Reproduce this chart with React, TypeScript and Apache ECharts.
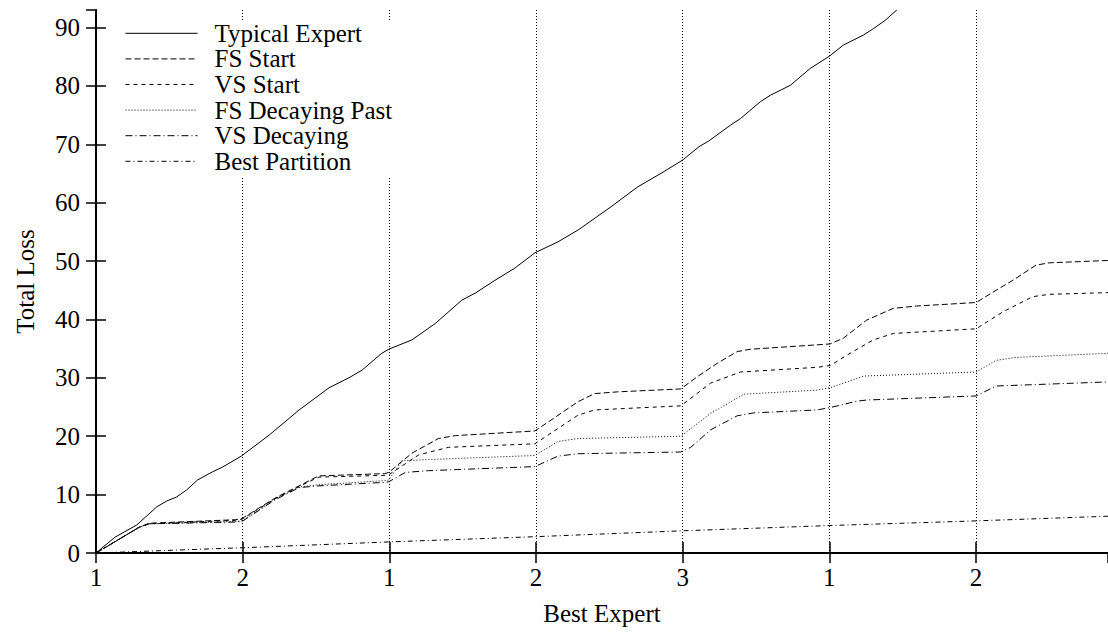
import React, { useEffect, useRef } from "react";
import * as echarts from "echarts";

// Best expert label shown at each segment boundary (every 100 trials)
const xTickLabels = ["1", "2", "1", "2", "3", "1", "2"];
const seriesNames = [
  "Typical Expert",
  "FS Start",
  "VS Start",
  "FS Decaying Past",
  "VS Decaying",
  "Best Partition",
];

// [trial, total loss]
const typicalExpert = [
  [0, 0], [12.9, 2.7], [27.8, 4.8], [41.4, 7.9], [48.2, 8.9], [55, 9.6], [61.8, 10.8],
  [69.2, 12.5], [79.4, 13.9], [86.2, 14.7], [99.1, 16.6], [118.1, 20.2], [138.5, 24.5],
  [158.9, 28.3], [172.4, 30.0], [181.3, 31.3], [194.8, 34.2], [199.6, 34.9], [215.4, 36.5],
  [231.3, 39.3], [249.4, 43.3], [258.5, 44.5], [272, 46.7], [285.6, 48.8], [299.2, 51.4],
  [315, 53.3], [328.6, 55.3], [351.2, 59.3], [369.3, 62.7], [385.1, 65.0], [400, 67.3],
  [411.2, 69.6], [418, 70.6], [432.7, 73.3], [439.4, 74.4], [453, 77.3], [459.8, 78.4],
  [473.4, 80.1], [487, 83.0], [500.1, 85.1], [509.6, 87.0], [523.2, 88.7], [530, 89.8],
  [537.9, 91.2], [546, 93.0],
];

const fsStart = [
  [0, 0], [29.4, 4.4], [36.2, 5.1], [95, 5.7], [99.6, 5.9], [122, 9.4], [138.5, 11.5],
  [149.4, 12.9], [152, 13.2], [196.9, 13.6], [199.6, 13.8], [215.4, 17.1], [233.5, 19.6],
  [244.9, 20.1], [299.2, 20.9], [312.8, 23.2], [328.6, 25.9], [339.9, 27.3], [355.7, 27.6],
  [398.7, 28.1], [410, 30.2], [423.6, 32.5], [437.2, 34.5], [446.2, 34.9], [500.5, 35.8],
  [509.6, 36.8], [525.5, 39.9], [543.6, 41.9], [559.4, 42.3], [600.1, 42.9], [613.7, 45.0],
  [625.1, 46.7], [640.9, 49.3], [650, 49.7], [690, 50.1],
];

const vsStart = [
  [0, 0], [29.4, 4.4], [36.2, 5.0], [95, 5.6], [99.6, 5.8], [122, 9.3], [138.5, 11.4],
  [149.4, 12.7], [152, 13.0], [196.9, 13.3], [199.6, 13.4], [220, 16.8], [240.3, 18.1],
  [299.2, 18.7], [328.6, 23.6], [339.9, 24.5], [398.7, 25.2], [419.1, 29.1], [439.4, 31.0],
  [491.5, 31.8], [500.5, 32.1], [514.1, 34.2], [530, 36.5], [543.6, 37.6], [600.1, 38.4],
  [618.3, 41.3], [638.6, 43.9], [650, 44.3], [690, 44.6],
];

const fsDecayingPast = [
  [0, 0], [29.4, 4.4], [36.2, 5.0], [95, 5.4], [99.6, 5.5], [122, 9.2], [138.5, 11.3],
  [152, 11.7], [196.9, 12.4], [199.6, 12.5], [208.6, 15.8], [226.7, 16.0], [299.2, 16.7],
  [315, 19.1], [328.6, 19.6], [398.7, 20.0], [419.1, 23.9], [441.7, 27.2], [491.5, 27.9],
  [500.5, 28.3], [523.2, 30.3], [600.1, 31.0], [613.7, 33.0], [627.3, 33.5], [690, 34.2],
];

const vsDecaying = [
  [0, 0], [29.4, 4.4], [36.2, 5.0], [95, 5.3], [99.6, 5.4], [122, 9.1], [138.5, 11.2],
  [152, 11.5], [196.9, 12.1], [199.6, 12.2], [210.9, 13.8], [226.7, 14.1], [299.2, 14.8],
  [315, 16.6], [328.6, 17.0], [398.7, 17.3], [405.5, 18.1], [419.1, 21.1], [437.2, 23.5],
  [448.5, 24.0], [491.5, 24.5], [500.5, 24.9], [518.7, 26.0], [525.5, 26.2], [600.1, 26.9],
  [613.7, 28.6], [690, 29.3],
];

const bestPartition = [
  [0, 0], [100, 0.9], [200, 1.9], [300, 2.8], [400, 3.8], [500, 4.7], [600, 5.5], [690, 6.3],
];

const seriesData = [typicalExpert, fsStart, vsStart, fsDecayingPast, vsDecaying, bestPartition];
const dashTypes: any[] = ["solid", [6, 3], [4, 4], [1, 2], [7, 3, 1, 3], [5, 3, 1, 3]];

export default function App() {
  const ref = useRef<HTMLDivElement>(null);

  useEffect(() => {
    if (!ref.current) return;
    const chart = echarts.init(ref.current, null, { renderer: "svg" });
    const font = "Liberation Serif";
    const txt = { fontFamily: font, fontSize: 25, color: "#000" };

    chart.setOption({
      animation: false,
      backgroundColor: "#fff",
      grid: { left: 96, right: -5, top: 10, bottom: 80 },
      xAxis: [
        {
          type: "value",
          min: 0,
          max: 690,
          interval: 100,
          position: "bottom",
          name: "Best Expert",
          nameLocation: "middle",
          nameGap: 48,
          nameTextStyle: txt,
          axisLine: { lineStyle: { color: "#000", width: 2 } },
          axisTick: { inside: true, length: 11, lineStyle: { color: "#000", width: 1.5 } },
          axisLabel: {
            ...txt,
            margin: 12,
            showMaxLabel: false,
            formatter: (v: number) => {
              const i = Math.round(v / 100);
              return Math.abs(v - i * 100) < 1e-6 && i < xTickLabels.length ? xTickLabels[i] : "";
            },
          },
          splitLine: { show: true, lineStyle: { color: "#000", width: 1, type: [1, 2] } },
        },
        {
          type: "value",
          min: 0,
          max: 690,
          interval: 100,
          position: "top",
          axisLine: { lineStyle: { color: "#000", width: 2 } },
          axisTick: { inside: true, length: 10, lineStyle: { color: "#000", width: 1.5 } },
          axisLabel: { show: false },
          splitLine: { show: false },
        },
      ],
      yAxis: [
        {
          type: "value",
          min: 0,
          max: 93,
          interval: 10,
          position: "left",
          name: "Total Loss",
          nameLocation: "middle",
          nameGap: 58,
          nameRotate: 90,
          nameTextStyle: txt,
          axisLine: { show: true, lineStyle: { color: "#000", width: 2 } },
          axisTick: { show: true, inside: true, length: 10, lineStyle: { color: "#000", width: 1.5 } },
          axisLabel: {
            ...txt,
            margin: 16,
            showMaxLabel: false,
            formatter: (v: number) => (Math.abs(v % 10) < 1e-6 ? String(v) : ""),
          },
          splitLine: { show: false },
        },
        {
          type: "value",
          min: 0,
          max: 93,
          interval: 10,
          position: "right",
          axisLine: { show: true, lineStyle: { color: "#000", width: 2 } },
          axisTick: { show: true, inside: true, length: 10, lineStyle: { color: "#000", width: 1.5 } },
          axisLabel: { show: false },
          splitLine: { show: false },
        },
      ],
      legend: {
        orient: "vertical",
        left: 115,
        top: 20.8,
        padding: [0, 10, 3, 10],
        backgroundColor: "#fff",
        itemWidth: 72,
        itemHeight: 14,
        itemGap: 0.6,
        selectedMode: false,
        data: seriesNames,
        itemStyle: { color: "rgba(0,0,0,0)", borderWidth: 0, opacity: 0 },
        lineStyle: { width: 1 },
        textStyle: { ...txt, lineHeight: 25, padding: [0, 0, 0, 12] },
      },
      series: seriesNames.map((name, i) => ({
        name,
        type: "line",
        data: seriesData[i],
        showSymbol: false,
        symbol: "none",
        smooth: false,
        clip: true,
        lineStyle: { color: "#000", width: 1, type: dashTypes[i] },
        itemStyle: { color: "#000" },
      })),
    });

    return () => chart.dispose();
  }, []);

  return (
    <div
      ref={ref}
      style={{ position: "absolute", left: 0, top: 0, width: 1108, height: 633 }}
    />
  );
}
